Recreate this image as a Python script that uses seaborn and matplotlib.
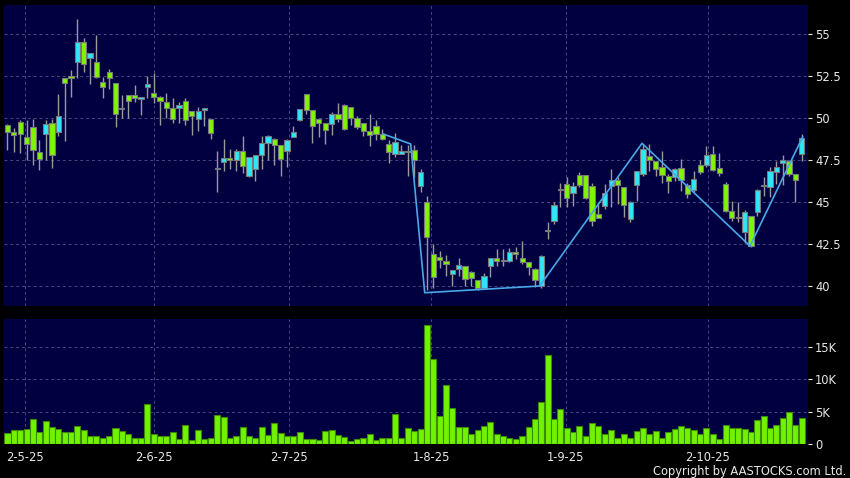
import numpy as np
import pandas as pd
import matplotlib
matplotlib.use("Agg")
import matplotlib.pyplot as plt
import seaborn as sns

# ---------------- data ----------------
opens = [49.62, 49.20, 49.80, 48.90, 49.50, 48.01, 49.08, 49.74, 49.20, 52.37,
         52.49, 53.37, 54.56, 53.57, 53.33, 52.15, 52.73, 52.07, 50.60, 51.41,
         51.39, 51.12, 51.89, 51.51, 51.27, 50.98, 50.64, 50.64, 51.00, 50.44,
         49.98, 50.48, 49.94, 47.05, 47.37, 47.63, 47.53, 48.05, 46.57, 46.99,
         47.83, 48.55, 48.78, 48.39, 48.03, 48.90, 49.92, 51.47, 50.52, 49.94,
         49.74, 49.64, 50.26, 50.78, 50.68, 50.04, 49.72, 49.24, 49.54, 49.08,
         48.49, 47.85, 47.89, 48.05, 48.13, 45.96, 45.02, 41.91, 41.75, 41.51,
         40.72, 41.02, 41.20, 40.84, 40.36, 39.88, 41.20, 41.67, 41.57, 41.51,
         42.05, 41.69, 41.43, 41.04, 40.00, 43.31, 43.86, 45.78, 46.10, 45.56,
         46.63, 46.63, 45.96, 44.30, 44.80, 45.96, 46.31, 45.94, 44.00, 46.04,
         46.69, 47.73, 47.45, 47.09, 46.55, 46.49, 47.05, 46.00, 45.76, 47.19,
         47.19, 47.85, 47.05, 46.06, 44.50, 44.08, 43.21, 44.20, 44.40, 46.02,
         45.94, 46.83, 47.35, 47.45, 46.69, 47.89]
highs = [49.68, 49.44, 49.92, 49.92, 49.94, 48.69, 49.92, 49.96, 51.43, 52.37,
         52.87, 55.92, 54.76, 53.86, 54.96, 52.47, 52.93, 52.07, 51.37, 51.41,
         51.97, 51.24, 52.53, 52.69, 51.31, 51.53, 51.18, 50.98, 51.18, 50.44,
         50.68, 50.64, 49.94, 48.03, 48.75, 48.15, 48.15, 48.92, 47.69, 47.83,
         48.94, 48.98, 48.82, 48.39, 48.78, 49.52, 50.58, 51.47, 50.52, 50.04,
         49.74, 50.38, 50.88, 50.82, 50.68, 50.16, 49.72, 50.24, 49.88, 49.38,
         48.69, 49.12, 48.39, 48.39, 48.39, 46.99, 45.40, 42.51, 42.11, 41.87,
         40.96, 41.71, 41.20, 40.92, 40.36, 40.82, 41.71, 42.21, 42.25, 42.31,
         42.35, 42.71, 41.43, 41.12, 41.87, 43.80, 45.00, 46.14, 46.49, 46.20,
         46.79, 46.63, 46.14, 45.00, 46.10, 46.99, 46.49, 45.94, 45.10, 46.89,
         48.49, 48.49, 47.45, 48.03, 46.69, 47.05, 47.59, 46.14, 46.89, 47.49,
         48.33, 48.33, 47.93, 46.20, 45.10, 45.00, 44.54, 44.20, 45.80, 46.49,
         47.09, 47.45, 47.83, 47.53, 46.69, 49.04]
lows = [48.13, 47.99, 47.93, 47.49, 47.23, 46.93, 47.49, 47.03, 48.94, 48.65,
        51.27, 52.37, 52.77, 52.01, 52.37, 51.18, 51.73, 49.48, 50.00, 50.02,
        50.98, 50.22, 51.22, 50.88, 49.58, 50.00, 49.72, 49.72, 49.58, 49.02,
        49.24, 49.54, 48.76, 45.64, 46.89, 46.99, 46.89, 46.73, 46.49, 46.25,
        46.99, 47.49, 47.19, 46.55, 47.09, 48.86, 49.84, 50.28, 48.55, 48.88,
        48.49, 49.02, 49.78, 49.28, 49.58, 49.38, 48.92, 48.33, 48.69, 48.73,
        47.33, 47.69, 47.89, 46.59, 46.49, 45.60, 39.80, 39.92, 41.12, 40.62,
        40.02, 40.62, 40.02, 40.02, 39.76, 39.82, 40.56, 41.22, 41.22, 41.47,
        41.61, 41.31, 40.66, 39.96, 39.92, 42.81, 43.71, 44.70, 44.70, 44.76,
        45.94, 45.20, 43.61, 44.06, 44.60, 44.70, 44.90, 44.10, 43.80, 45.06,
        46.59, 46.89, 46.55, 46.14, 45.54, 46.29, 45.70, 45.26, 45.60, 46.69,
        47.13, 46.89, 46.59, 44.40, 43.90, 43.80, 42.55, 42.35, 44.20, 45.40,
        45.34, 46.10, 46.00, 46.59, 45.04, 47.45]
closes = [49.18, 49.02, 49.08, 48.49, 48.13, 47.59, 49.68, 47.83, 50.16, 52.07,
          52.37, 54.56, 53.21, 53.86, 52.43, 51.89, 52.37, 50.28, 50.56, 51.02,
          51.20, 51.24, 52.01, 51.29, 51.02, 50.64, 49.98, 50.80, 49.92, 50.14,
          50.44, 50.64, 49.14, 46.97, 47.63, 47.49, 48.05, 47.15, 47.69, 47.83,
          48.55, 48.92, 48.39, 47.59, 48.73, 49.20, 50.54, 50.52, 49.52, 49.74,
          49.32, 50.26, 49.98, 49.38, 50.04, 49.48, 49.24, 49.02, 49.08, 48.78,
          47.99, 48.59, 48.07, 48.01, 47.53, 46.81, 42.91, 40.58, 41.55, 41.31,
          40.96, 41.25, 40.46, 40.48, 39.88, 40.60, 41.71, 41.51, 41.53, 42.03,
          41.91, 41.45, 41.16, 40.36, 41.79, 43.37, 44.84, 45.74, 45.26, 45.96,
          46.00, 45.26, 43.86, 44.06, 45.56, 46.35, 46.00, 44.86, 45.00, 46.85,
          48.19, 47.53, 46.99, 46.63, 46.29, 46.99, 46.33, 45.50, 46.39, 46.79,
          47.79, 46.93, 46.75, 44.46, 44.06, 44.04, 44.40, 42.41, 45.74, 45.98,
          46.85, 47.13, 47.49, 46.69, 46.33, 48.84]
volumes_k = [1.7, 2.1, 2.1, 2.3, 3.8, 1.9, 3.5, 2.7, 2.3, 1.9, 1.9, 2.8, 2.1, 1.3, 1.2,
             0.9, 1.2, 2.5, 2.0, 1.6, 1.0, 0.9, 6.1, 1.6, 1.3, 1.3, 1.9, 0.7, 3.0, 0.6,
             2.1, 0.7, 0.9, 4.5, 4.1, 1.0, 1.2, 2.7, 1.2, 0.9, 2.7, 1.4, 3.2, 1.7, 1.3,
             1.3, 1.8, 0.8, 0.8, 0.6, 2.0, 2.2, 1.4, 1.1, 0.5, 0.7, 0.9, 1.6, 0.6, 1.0,
             1.0, 4.7, 1.0, 2.4, 2.0, 2.3, 18.4, 13.2, 4.4, 9.1, 5.6, 2.6, 2.6, 1.6, 2.2,
             2.8, 3.4, 1.5, 1.2, 0.9, 0.8, 1.2, 2.6, 3.9, 6.5, 13.8, 3.8, 5.4, 2.4,
             1.8, 2.8, 1.3, 3.3, 2.8, 1.6, 2.2, 0.9, 1.6, 1.0, 2.0, 2.5, 1.6, 2.0, 1.0,
             1.8, 2.3, 2.8, 2.5, 2.1, 1.5, 2.4, 1.6, 0.7, 2.9, 2.5, 2.5, 2.3, 1.8, 3.7,
             4.3, 2.4, 3.0, 4.0, 5.0, 3.0, 4.0]
date_labels = ["2-5-25", "2-6-25", "2-7-25", "1-8-25", "1-9-25", "2-10-25"]
date_tick_idx = [2.8, 23.1, 44.3, 66.7, 87.9, 110.2]
price_ticks = [40, 42.5, 45, 47.5, 50, 52.5, 55]
price_tick_labels = ["40", "42.5", "45", "47.5", "50", "52.5", "55"]
vol_ticks = [0, 5, 10, 15]
vol_tick_labels = ["0", "5K", "10K", "15K"]
zigzag_idx = [59.1, 63.45, 65.66, 83.75, 99.86, 116.85, 125.15]
zigzag_price = [49.07, 48.47, 39.62, 40.02, 48.51, 42.40, 48.90]

# ---------------- style ----------------
BG = "#000040"
FIG_BG = "#000000"
GREEN = "#80f500"
CYAN = "#2ee6f6"
WICK = "#9a9a9a"
EDGE = "#7a7a7a"
GRID = "#48487e"
TXT = "#e8e8e8"

sns.set_style("dark")
plt.rcParams["font.family"] = ["DejaVu Sans"]

df = pd.DataFrame({"open": opens, "high": highs, "low": lows,
                   "close": closes, "vol": volumes_k})
df["idx"] = np.arange(len(df))
up = df["close"] >= df["open"]
body_col = np.where(up, CYAN, GREEN)
body_bot = np.minimum(df["open"], df["close"])
body_h = np.maximum((df["close"] - df["open"]).abs(), 0.06)

fig = plt.figure(figsize=(8.5, 4.78), dpi=100, facecolor=FIG_BG)
ax = fig.add_axes([4 / 850, 1 - 306 / 478, 804 / 850, 301 / 478])
axv = fig.add_axes([4 / 850, 1 - 444 / 478, 804 / 850, 125 / 478], sharex=ax)

xlim = (-0.55, 125.98)
for a in (ax, axv):
    a.set_facecolor(BG)
    for s in a.spines.values():
        s.set_visible(False)
    a.yaxis.tick_right()
    a.tick_params(axis="y", colors=TXT, length=3, width=0.8, pad=2, labelsize=8.3,
                  labelcolor=TXT)
    a.set_xticks(date_tick_idx)
    a.grid(True, color=GRID, linestyle=(0, (3, 3)), linewidth=0.7)
    a.set_axisbelow(True)

# candles
ax.vlines(df["idx"], df["low"], df["high"], color=WICK, linewidth=1.0, zorder=2)
ax.bar(df["idx"], body_h, bottom=body_bot, width=0.82, color=body_col,
       edgecolor=EDGE, linewidth=0.8, zorder=3)
# zigzag overlay
sns.lineplot(x=zigzag_idx, y=zigzag_price, ax=ax, sort=False, color="#4aa8e6",
             linewidth=1.2, zorder=4)
ax.set_xlim(*xlim)
ax.set_ylim(38.83, 56.74)
ax.set_yticks(price_ticks)
ax.set_yticklabels(price_tick_labels)
ax.tick_params(axis="x", bottom=False, labelbottom=False)
ax.set_xlabel("")
ax.set_ylabel("")

# volume
axv.bar(df["idx"], df["vol"], width=0.95, color="#70f200", edgecolor="#3d8a00",
        linewidth=0.8, zorder=3)
axv.set_ylim(0, 19.3)
axv.set_yticks(vol_ticks)
axv.set_yticklabels(vol_tick_labels)
axv.set_xlim(*xlim)
axv.set_xticklabels(date_labels)
axv.tick_params(axis="x", colors=TXT, length=3, width=0.8, pad=2, labelsize=8.3,
                labelcolor=TXT)

fig.text(846 / 850, 1 - 471 / 478, "Copyright by AASTOCKS.com Ltd.", color=TXT,
         fontsize=8.3, ha="right", va="center")

fig.savefig("out.png", dpi=100, facecolor=FIG_BG)
